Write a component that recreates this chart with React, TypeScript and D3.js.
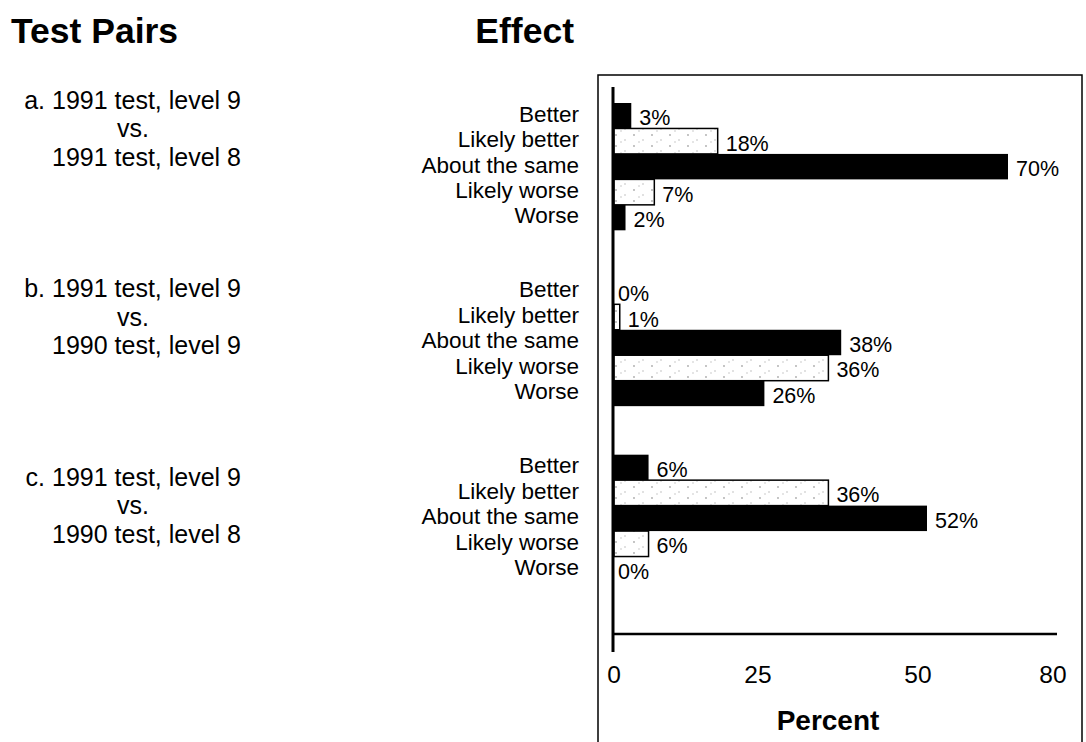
import * as d3 from "d3";

const effects = ["Better", "Likely better", "About the same", "Likely worse", "Worse"];
const pairs = ["a", "b", "c"];
const pairLines = [
  ["a. 1991 test, level 9", "vs.", "1991 test, level 8"],
  ["b. 1991 test, level 9", "vs.", "1990 test, level 9"],
  ["c. 1991 test, level 9", "vs.", "1990 test, level 8"],
];
const valuesA = [3, 18, 70, 7, 2];
const valuesB = [0, 1, 38, 36, 26];
const valuesC = [6, 36, 52, 6, 0];
const xTicks = [0, 25, 50, 80];

const width = 1086;
const height = 742;
const font = "'Liberation Sans', Arial, Helvetica, sans-serif";

export default function App() {
  const series = [valuesA, valuesB, valuesC];

  // axis on the original is not evenly spaced, so follow its tick positions
  const x = d3.scaleLinear().domain(xTicks).range([614, 758, 918, 1053]);
  const yGroup = d3.scaleBand<string>().domain(pairs).range([103, 582]).paddingInner(0.276);
  const yInner = d3.scaleBand<string>().domain(effects).range([0, yGroup.bandwidth()]);
  // the pair captions on the left sit on their own spacing
  const yCaption = d3.scalePoint<string>().domain(pairs).range([100, 477]);

  const hatched = (e: string) => e.startsWith("Likely");

  return (
    <div style={{ position: "absolute", left: 0, top: 0 }}>
      <svg width={width} height={height} style={{ display: "block", background: "#fff" }} fontFamily={font}>
        <defs>
          <pattern id="speck" width="18" height="11" patternUnits="userSpaceOnUse">
            <rect width="18" height="11" fill="#fff" />
            <circle cx="4" cy="3" r="0.9" fill="#aaa" />
            <circle cx="13" cy="8" r="0.8" fill="#bbb" />
            <rect x="8" y="9.5" width="2" height="1" fill="#ccc" />
          </pattern>
        </defs>

        <text x={11} y={43} fontSize={35.5} fontWeight="bold">Test Pairs</text>
        <text x={574} y={43} fontSize={35.5} fontWeight="bold" textAnchor="end">Effect</text>

        <rect x={598} y={75} width={484} height={700} fill="none" stroke="#000" strokeWidth={1.5} />

        {pairs.map((p, gi) => {
          const g0 = yGroup(p) as number;
          const cy = yCaption(p) as number;
          const lines = pairLines[gi];
          return (
            <g key={p}>
              <text x={241} y={cy} dy="0.35em" fontSize={25} textAnchor="end">{lines[0]}</text>
              <text x={133} y={cy + 28.5} dy="0.35em" fontSize={25} textAnchor="middle">{lines[1]}</text>
              <text x={241} y={cy + 57} dy="0.35em" fontSize={25} textAnchor="end">{lines[2]}</text>
              {effects.map((e, i) => {
                const v = series[gi][i];
                const y0 = g0 + (yInner(e) as number);
                const h = yInner.bandwidth();
                return (
                  <g key={e}>
                    <text x={579} y={y0 + h / 2 - 2} dy="0.35em" fontSize={22.5} textAnchor="end">{e}</text>
                    {v > 0 && (
                      <rect
                        x={x(0)}
                        y={y0}
                        width={x(v) - x(0)}
                        height={h}
                        fill={hatched(e) ? "url(#speck)" : "#000"}
                        stroke={hatched(e) ? "#000" : "none"}
                        strokeWidth={1.5}
                      />
                    )}
                    <text x={x(v) + (v > 0 ? 8 : 4)} y={y0 + h / 2 + 2} dy="0.35em" fontSize={21.5}>{v}%</text>
                  </g>
                );
              })}
            </g>
          );
        })}

        <line x1={613} x2={613} y1={87} y2={652} stroke="#000" strokeWidth={3} />
        <line x1={613} x2={1057} y1={634} y2={634} stroke="#000" strokeWidth={2.5} />
        {xTicks.map((t) => (
          <text key={t} x={x(t)} y={683} fontSize={24.5} textAnchor="middle">{t}</text>
        ))}
        <text x={828} y={730} fontSize={28} fontWeight="bold" textAnchor="middle">Percent</text>
      </svg>
    </div>
  );
}
